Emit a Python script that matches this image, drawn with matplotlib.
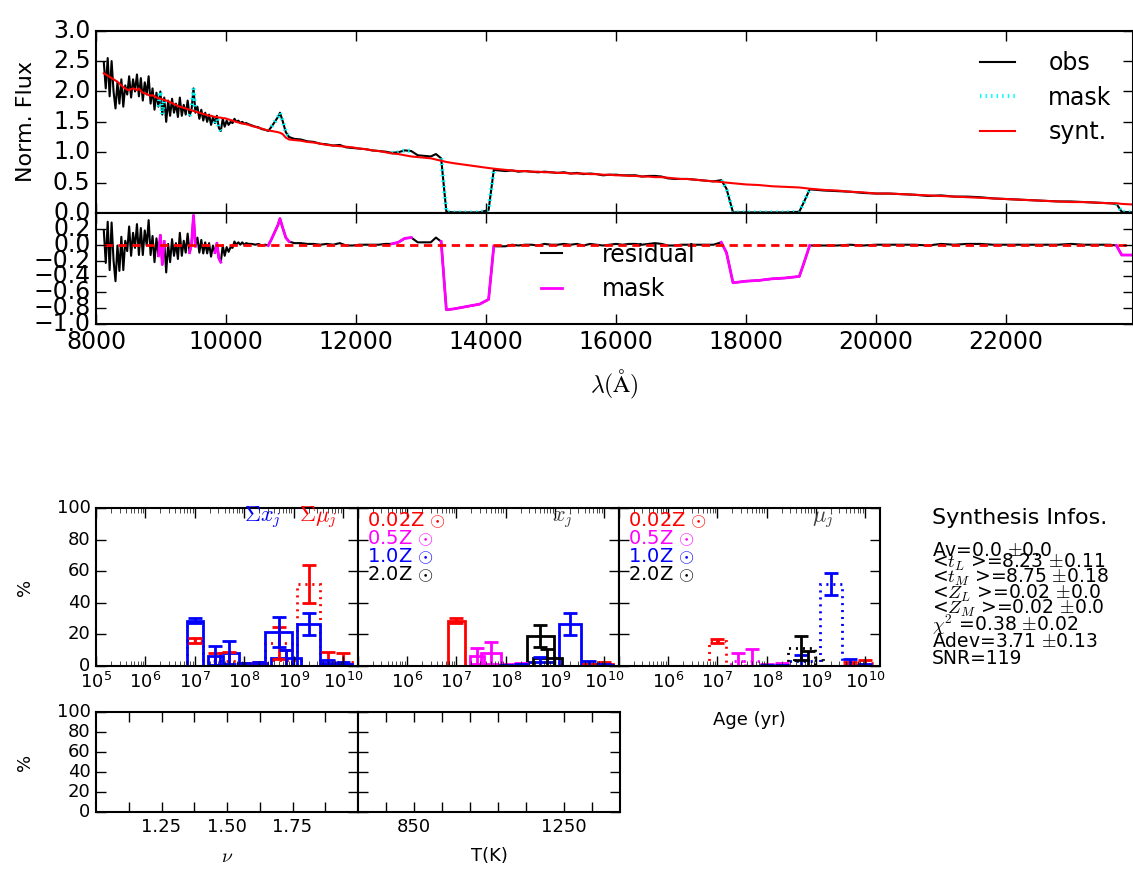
"""
Spectral synthesis summary plot: observed vs synthetic spectrum, residuals,
and the population vectors (x_j, mu_j) binned by age and metallicity.
"""
import numpy as np
import matplotlib
matplotlib.use("Agg")  # no display
import matplotlib.pyplot as plt

plt.style.use("classic")
plt.rcParams.update({
    "figure.facecolor": "white",
    "savefig.facecolor": "white",
    "font.family": ["DejaVu Sans"],
    "mathtext.fontset": "cm",
    "axes.linewidth": 1.5,
    "xtick.major.size": 7, "ytick.major.size": 7,
    "xtick.minor.size": 3.5, "ytick.minor.size": 3.5,
    "xtick.major.width": 1.0, "ytick.major.width": 1.0,
})

# ---- spectrum (wavelength in Angstrom, normalised flux) ----
WAVE = [
    8120, 8150, 8180, 8210, 8240, 8270, 8300, 8330, 8360, 8390, 8420, 8450, 8480, 8510,
    8540, 8570, 8600, 8630, 8660, 8690, 8720, 8750, 8780, 8810, 8840, 8870, 8900, 8930,
    8960, 8990, 9020, 9050, 9080, 9110, 9140, 9170, 9200, 9230, 9260, 9290, 9320, 9350,
    9380, 9410, 9440, 9470, 9500, 9530, 9560, 9590, 9620, 9650, 9680, 9710, 9740, 9770,
    9800, 9830, 9860, 9890, 9920, 9950, 9980, 10010, 10040, 10070, 10100, 10130, 10160, 10190,
    10220, 10250, 10280, 10310,
    10350, 10400, 10450, 10500, 10550, 10600, 10650, 10700, 10750, 10800, 10830, 10870, 10920, 10970,
    11050, 11150, 11250, 11350, 11450, 11550, 11650, 11750, 11850, 11950, 12050, 12150, 12250, 12350,
    12450, 12550, 12650, 12750, 12850, 12950, 13050, 13150, 13230, 13310, 13390, 13500, 13700, 13900,
    14040, 14120, 14200, 14300, 14400, 14500, 14600, 14700, 14800, 14900, 15000, 15100, 15200, 15300,
    15400, 15500, 15600, 15700, 15800, 15900, 16000, 16100, 16200, 16300, 16400, 16500, 16600, 16700,
    16800, 16900, 17000, 17100, 17200, 17300, 17400, 17500, 17620, 17700, 17800, 18000, 18200, 18400,
    18600, 18820, 18900, 18980, 19100, 19200, 19400, 19600, 19800, 20000, 20200, 20400, 20600, 20800,
    21000, 21200, 21400, 21600, 21800, 22000, 22200, 22400, 22600, 22800, 23000, 23200, 23400, 23600,
    23700, 23780, 23950,
]
OBS_FLUX = [
    2.48, 2.05, 2.55, 1.92, 2.50, 2.00, 1.72, 2.15, 1.80, 2.20, 1.75, 2.10, 1.95, 2.25,
    1.90, 2.20, 2.00, 2.28, 1.92, 2.22, 1.85, 2.15, 1.95, 2.25, 1.80, 2.05, 1.70, 1.98,
    1.75, 2.00, 1.62, 1.90, 1.50, 1.85, 1.60, 1.88, 1.65, 1.80, 1.58, 1.90, 1.60, 1.78,
    1.62, 1.85, 1.60, 1.70, 2.05, 1.65, 1.75, 1.55, 1.70, 1.52, 1.65, 1.50, 1.62, 1.45,
    1.58, 1.48, 1.60, 1.40, 1.35, 1.55, 1.42, 1.52, 1.45, 1.50, 1.48, 1.55, 1.50, 1.52,
    1.48, 1.50, 1.47, 1.48,
    1.46, 1.44, 1.42, 1.41, 1.38, 1.37, 1.35, 1.42, 1.50, 1.58, 1.65, 1.52, 1.33, 1.25,
    1.22, 1.21, 1.18, 1.17, 1.14, 1.13, 1.11, 1.12, 1.08, 1.07, 1.06, 1.05, 1.03, 1.02,
    1.01, 0.99, 1.00, 1.03, 1.02, 0.95, 0.94, 0.93, 0.97, 0.90, 0.02, 0.01, 0.01, 0.01,
    0.05, 0.71, 0.70, 0.69, 0.70, 0.68, 0.69, 0.68, 0.67, 0.68, 0.67, 0.66, 0.67, 0.65,
    0.66, 0.64, 0.65, 0.64, 0.62, 0.63, 0.63, 0.62, 0.62, 0.62, 0.60, 0.61, 0.61, 0.60,
    0.57, 0.56, 0.56, 0.56, 0.55, 0.54, 0.53, 0.52, 0.54, 0.40, 0.01, 0.01, 0.01, 0.01,
    0.01, 0.02, 0.20, 0.39, 0.38, 0.37, 0.36, 0.35, 0.33, 0.32, 0.32, 0.31, 0.30, 0.28,
    0.29, 0.27, 0.27, 0.26, 0.24, 0.23, 0.22, 0.21, 0.20, 0.19, 0.19, 0.18, 0.17, 0.16,
    0.15, 0.02, 0.01,
]
SYN_FLUX = [
    2.30, 2.28, 2.26, 2.24, 2.22, 2.20, 2.18, 2.16, 2.13, 2.10, 2.07, 2.05, 2.03, 2.02,
    2.04, 2.05, 2.04, 2.02, 2.05, 2.01, 1.98, 1.97, 1.96, 1.94, 1.93, 1.94, 1.92, 1.90,
    1.89, 1.88, 1.87, 1.86, 1.85, 1.84, 1.82, 1.81, 1.79, 1.78, 1.76, 1.75, 1.74, 1.73,
    1.72, 1.71, 1.70, 1.69, 1.68, 1.67, 1.66, 1.65, 1.64, 1.63, 1.62, 1.61, 1.60, 1.60,
    1.59, 1.58, 1.58, 1.57, 1.57, 1.56, 1.56, 1.55, 1.54, 1.53, 1.52, 1.51, 1.50, 1.49,
    1.48, 1.47, 1.47, 1.46,
    1.45, 1.43, 1.42, 1.40, 1.39, 1.37, 1.36, 1.35, 1.34, 1.33, 1.32, 1.30, 1.24, 1.21,
    1.20, 1.19, 1.17, 1.16, 1.14, 1.12, 1.11, 1.10, 1.09, 1.08, 1.06, 1.05, 1.03, 1.02,
    1.00, 0.98, 0.97, 0.95, 0.93, 0.92, 0.91, 0.90, 0.88, 0.86, 0.84, 0.82, 0.79, 0.76,
    0.74, 0.73, 0.72, 0.71, 0.70, 0.69, 0.69, 0.68, 0.68, 0.67, 0.67, 0.66, 0.66, 0.65,
    0.65, 0.65, 0.64, 0.64, 0.63, 0.63, 0.62, 0.62, 0.61, 0.61, 0.60, 0.60, 0.59, 0.59,
    0.58, 0.57, 0.56, 0.56, 0.55, 0.54, 0.53, 0.52, 0.51, 0.50, 0.49, 0.47, 0.46, 0.44,
    0.43, 0.42, 0.41, 0.40, 0.39, 0.38, 0.37, 0.35, 0.34, 0.32, 0.32, 0.31, 0.30, 0.29,
    0.28, 0.27, 0.26, 0.25, 0.24, 0.23, 0.22, 0.21, 0.20, 0.19, 0.18, 0.18, 0.17, 0.16,
    0.16, 0.15, 0.14,
]
# masked wavelength windows (lines / telluric bands)
MASK_RANGES = [(8960, 9050), (9440, 9530), (9830, 9920), (10650, 10970),
               (12550, 12650), (12750, 12850), (13310, 14120), (17620, 18980),
               (23700, 23950)]

# ---- population vectors (percent) ----
AGE_BINS = [1e7, 2.6e7, 5e7, 1e8, 2e8, 5e8, 7e8, 2e9, 5e9, 1e10]
Z_LABELS = [r"0.02Z $\odot$", r"0.5Z $\odot$", r"1.0Z $\odot$", r"2.0Z $\odot$"]
Z_COLORS = ["red", "magenta", "blue", "black"]

x_z002 = [28.7, 0, 0, 0.3, 0.3, 0, 0, 0, 0.5, 1.0]
x_z05 = [0, 6.5, 8.5, 0.5, 1.0, 0, 0, 0, 0, 0]
x_z10 = [0, 0, 0, 0.3, 0.5, 2.5, 0, 26.6, 1.5, 0.5]
x_z20 = [0, 0, 0, 0, 0, 19.0, 4.8, 0, 0, 0]
ex_z002 = [1.5, 0, 0, 0.5, 0.5, 0, 0, 0, 1.0, 1.5]
ex_z05 = [0, 5.0, 7.0, 1.0, 1.0, 0, 0, 0, 0, 0]
ex_z10 = [0, 0, 0, 0.5, 0.5, 3.5, 0, 6.7, 1.5, 0.5]
ex_z20 = [0, 0, 0, 0, 0, 6.7, 5.7, 0, 0, 0]

mu_z002 = [16.0, 0, 0, 0.2, 0.3, 0, 0, 0, 1.5, 2.0]
mu_z05 = [0, 3.0, 3.0, 0.5, 1.0, 0, 0, 0, 0, 0]
mu_z10 = [0, 0, 0, 0.2, 0.3, 3.0, 0, 52.0, 1.5, 0.5]
mu_z20 = [0, 0, 0, 0, 0, 11.5, 4.0, 0, 0, 0]
emu_z002 = [1.4, 0, 0, 0.3, 0.3, 0, 0, 0, 1.0, 2.0]
emu_z05 = [0, 5.0, 8.0, 0.5, 1.0, 0, 0, 0, 0, 0]
emu_z10 = [0, 0, 0, 0.3, 0.3, 4.0, 0, 7.0, 3.0, 0.5]
emu_z20 = [0, 0, 0, 0, 0, 7.5, 5.5, 0, 0, 0]

sum_x_err = [1.5, 6.0, 7.5, 1.0, 1.0, 9.5, 5.5, 6.7, 1.5, 1.0]
sum_mu_err = [1.6, 5.0, 6.0, 1.0, 1.0, 10.0, 6.0, 12.0, 6.0, 6.0]

# featureless continuum (power law nu) and hot dust (black body T)
PL_NU = [1.25, 1.50, 1.75]
PL_FRAC = [0.0, 0.0, 0.0]
BB_TEMP = [850, 1250]
BB_FRAC = [0.0, 0.0]

INFO_LINES = [
    r"Av=0.0 $\pm$0.0",
    r"<$t_L$ >=8.23 $\pm$0.11",
    r"<$t_M$ >=8.75 $\pm$0.18",
    r"<$Z_L$ >=0.02 $\pm$0.0",
    r"<$Z_M$ >=0.02 $\pm$0.0",
    r"$\chi^2$ =0.38 $\pm$0.02",
    r"Adev=3.71 $\pm$0.13",
    r"SNR=119",
]

W, H = 1133, 871
BIN_DEX = [0.33, 0.30, 0.40, 0.25, 0.30, 0.55, 0.60, 0.45, 0.30, 0.35]
MU_LS = (0, (1.5, 3.5))


def px_box(left, top, right, bottom):
    return [left / W, 1 - bottom / H, (right - left) / W, (bottom - top) / H]


def in_mask(wave):
    m = np.zeros(len(wave), dtype=bool)
    for lo, hi in MASK_RANGES:
        m |= (wave >= lo) & (wave <= hi)
    return m


def draw_bars(ax, vals, errs, color, ls):
    vals = np.asarray(vals, dtype=float)
    errs = np.asarray(errs, dtype=float)
    ages = np.asarray(AGE_BINS)
    dex = np.asarray(BIN_DEX)
    keep = vals > 0
    lo = ages * 10 ** (-dex / 2)
    hi = ages * 10 ** (dex / 2)
    ax.bar(lo[keep], vals[keep], width=(hi - lo)[keep], align="edge", fill=False,
           edgecolor=color, linestyle=ls, linewidth=2)
    ax.errorbar(ages[keep], vals[keep], yerr=errs[keep], fmt="none", ecolor=color,
                elinewidth=2, capsize=5, capthick=2)


def style_age_axis(ax, first_label=True):
    ax.set_xscale("log")
    ax.set_xlim(1e5, 2e10)
    ax.set_ylim(0, 100)
    ax.set_xticks([1e5, 1e6, 1e7, 1e8, 1e9, 1e10])
    ax.set_yticks([0, 20, 40, 60, 80, 100])
    ax.tick_params(labelsize=13)
    if not first_label:
        ax.xaxis.get_major_ticks()[0].label1.set_visible(False)


def main():
    wave = np.array(WAVE, dtype=float)
    obs = np.array(OBS_FLUX)
    syn = np.array(SYN_FLUX)
    resid = obs - syn
    msk = in_mask(wave)

    fig = plt.figure(figsize=(W / 100, H / 100), dpi=100)

    # 1. spectrum panel
    ax_sp = fig.add_axes(px_box(96, 30.7, 1133, 213))
    ax_sp.plot(wave, obs, color="black", lw=1.5, label="obs")
    ax_sp.plot(wave, np.where(msk, obs, np.nan), color="cyan", ls=":", lw=3, label="mask")
    ax_sp.plot(wave, syn, color="red", lw=1.5, label="synt.")
    ax_sp.set_xlim(8000, 23954)
    ax_sp.set_ylim(0, 3.0)
    ax_sp.set_yticks([0.0, 0.5, 1.0, 1.5, 2.0, 2.5, 3.0])
    ax_sp.set_xticks([8000, 10000, 12000, 14000, 16000, 18000, 20000, 22000])
    ax_sp.tick_params(labelbottom=False, labelsize=17)
    ax_sp.set_ylabel("Norm. Flux", fontsize=16)
    ax_sp.yaxis.set_label_coords(-0.058, 0.5)
    ax_sp.legend(loc="upper right", bbox_to_anchor=(1.0, 1.005), frameon=False,
                 fontsize=17, handlelength=1.5, handletextpad=1.4, labelspacing=0.45,
                 numpoints=1)

    # 2. residual panel
    ax_res = fig.add_axes(px_box(96, 213, 1133, 324))
    ax_res.plot(wave, resid, color="black", lw=1.5, label="residual")
    ax_res.plot(wave, np.where(msk, resid, np.nan), color="magenta", lw=2, label="mask")
    ax_res.plot(wave, resid * 0, color="red", ls=(0, (6, 4)), lw=2)
    ax_res.set_xlim(8000, 23954)
    ax_res.set_ylim(-1.0, 0.4)
    ax_res.set_yticks([-1.0, -0.8, -0.6, -0.4, -0.2, 0.0, 0.2])
    ax_res.set_xticks([8000, 10000, 12000, 14000, 16000, 18000, 20000, 22000])
    ax_res.tick_params(labelsize=17)
    ax_res.set_xlabel(r"$\lambda(\mathrm{\AA})$", fontsize=17, labelpad=10)
    ax_res.legend(loc="center", bbox_to_anchor=(0.50, 0.47), frameon=False,
                  fontsize=17, handlelength=1.5, handletextpad=1.4, labelspacing=0.45)

    # 3. age panels
    ax_a = fig.add_axes(px_box(96, 508, 358, 666))
    draw_bars(ax_a, np.sum([mu_z002, mu_z05, mu_z10, mu_z20], axis=0), sum_mu_err,
              "red", MU_LS)
    draw_bars(ax_a, np.sum([x_z002, x_z05, x_z10, x_z20], axis=0), sum_x_err,
              "blue", "-")
    style_age_axis(ax_a)
    ax_a.set_ylabel("%", fontsize=13)
    ax_a.yaxis.set_label_coords(-0.235, 0.5)
    ax_a.text(0.634, 0.94, r"$\Sigma x_j$", color="blue", fontsize=16,
              transform=ax_a.transAxes, ha="center", va="center")
    ax_a.text(0.847, 0.94, r"$\Sigma \mu_j$", color="red", fontsize=16,
              transform=ax_a.transAxes, ha="center", va="center")

    x_sets = [(x_z002, ex_z002), (x_z05, ex_z05), (x_z10, ex_z10), (x_z20, ex_z20)]
    mu_sets = [(mu_z002, emu_z002), (mu_z05, emu_z05), (mu_z10, emu_z10), (mu_z20, emu_z20)]

    ax_b = fig.add_axes(px_box(358, 508, 619, 666))
    for (v, e), c in zip(x_sets, Z_COLORS):
        draw_bars(ax_b, v, e, c, "-")
    style_age_axis(ax_b, first_label=False)
    ax_b.tick_params(labelleft=False)
    ax_b.text(0.785, 0.93, r"$x_j$", color="0.25", fontsize=16,
              transform=ax_b.transAxes, ha="center", va="center")

    ax_c = fig.add_axes(px_box(619, 508, 880, 666))
    for (v, e), c in zip(mu_sets, Z_COLORS):
        draw_bars(ax_c, v, e, c, MU_LS)
    style_age_axis(ax_c, first_label=False)
    ax_c.tick_params(labelleft=False)
    ax_c.set_xlabel("Age (yr)", fontsize=13, labelpad=14)
    ax_c.text(0.78, 0.93, r"$\mu_j$", color="0.25", fontsize=16,
              transform=ax_c.transAxes, ha="center", va="center")

    for ax in (ax_b, ax_c):
        for i, (lab, c) in enumerate(zip(Z_LABELS, Z_COLORS)):
            ax.text(0.035, 0.924 - i * 0.114, lab, color=c, fontsize=14,
                    transform=ax.transAxes, ha="left", va="center")

    # 4. power law and black body panels
    ax_nu = fig.add_axes(px_box(96, 712, 358, 812))
    ax_nu.bar(PL_NU, PL_FRAC, width=0.09, fill=False, edgecolor="blue", linewidth=2)
    ax_nu.set_xlim(1.0, 2.0)
    ax_nu.set_ylim(0, 100)
    ax_nu.set_xticks([1.125, 1.25, 1.375, 1.5, 1.625, 1.75, 1.875])
    ax_nu.set_xticklabels(["", "1.25", "", "1.50", "", "1.75", ""])
    ax_nu.set_yticks([0, 20, 40, 60, 80, 100])
    ax_nu.tick_params(labelsize=13)
    ax_nu.set_ylabel("%", fontsize=13)
    ax_nu.yaxis.set_label_coords(-0.235, 0.5)
    ax_nu.set_xlabel(r"$\nu$", fontsize=14, labelpad=8)

    ax_t = fig.add_axes(px_box(358, 712, 620, 812))
    ax_t.bar(BB_TEMP, BB_FRAC, width=30, fill=False, edgecolor="red", linewidth=2)
    ax_t.set_xlim(700, 1400)
    ax_t.set_ylim(0, 100)
    ax_t.set_xticks([775, 850, 925, 1000, 1075, 1150, 1250, 1325])
    ax_t.set_xticklabels(["", "850", "", "", "", "", "1250", ""])
    ax_t.set_yticks([0, 20, 40, 60, 80, 100])
    ax_t.tick_params(labelsize=13, labelleft=False)
    ax_t.set_xlabel("T(K)", fontsize=13, labelpad=8)

    # 5. synthesis summary text
    fig.text(932 / W, 1 - 518 / H, "Synthesis Infos.", fontsize=16, va="center")
    line_y = [550, 562, 577, 593, 608, 625, 641.5, 658]
    for txt, y in zip(INFO_LINES, line_y):
        fig.text(932 / W, 1 - y / H, txt, fontsize=13.5, va="center")

    fig.savefig("out.png", dpi=100)
    plt.close(fig)


if __name__ == "__main__":
    main()
